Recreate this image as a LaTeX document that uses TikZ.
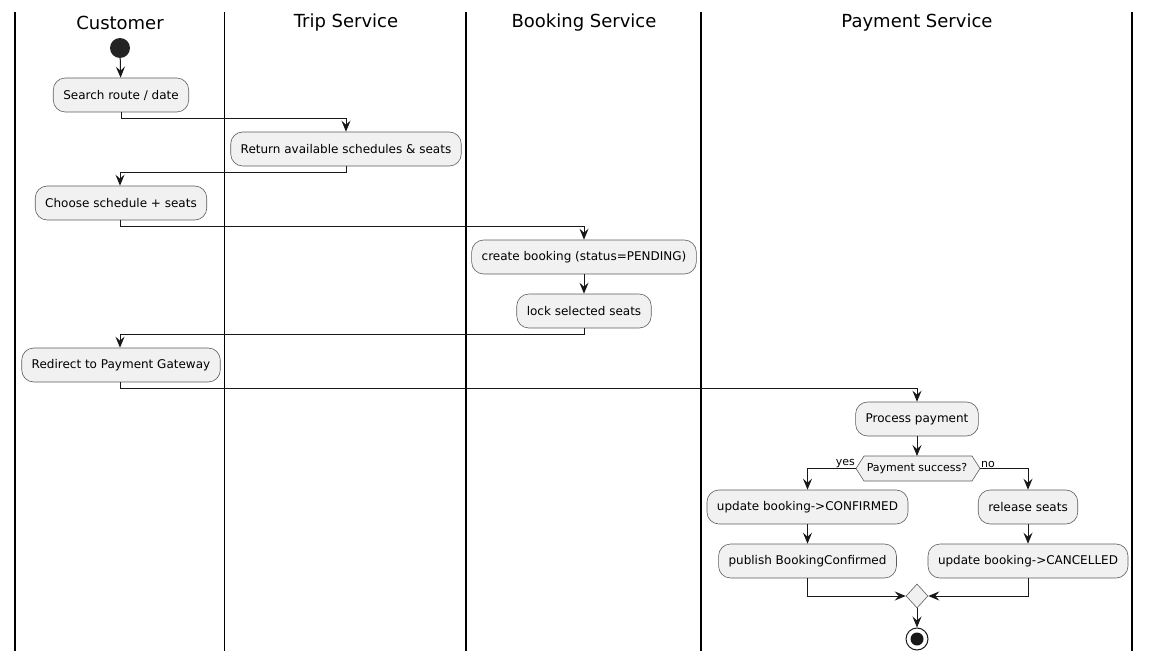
\documentclass[tikz,border=0pt]{standalone}
\usepackage{fontspec}
\setmainfont{DejaVu Sans}
\usetikzlibrary{arrows.meta,shapes.geometric,calc}
\definecolor{boxfill}{HTML}{F1F1F1}
\definecolor{ink}{HTML}{181818}
\begin{document}
\begin{tikzpicture}[x=1pt,y=-1pt,
  act/.style={draw=ink!70, line width=0.6pt, fill=boxfill, rounded corners=12pt,
    minimum height=34pt, inner xsep=10pt, inner ysep=0pt, font=\fontsize{12}{14}\selectfont},
  title/.style={font=\fontsize{18}{21}\selectfont},
  arr/.style={draw=ink, line width=1pt, -{Stealth[length=11pt,width=9pt,inset=4pt]}},
  lane/.style={draw=black, line width=1.5pt},
  lbl/.style={font=\fontsize{11}{13}\selectfont, inner sep=1pt}]
\useasboundingbox (0,0) rectangle (1151,661);
% swimlanes
\foreach \x in {15,224.5,466,701,1132}{\draw[lane] (\x,12) -- (\x,651);}
\node[title] (t1) at (120,23) {Customer};
\node[title] (t2) at (346,23) {Trip Service};
\node[title] (t3) at (584,23) {Booking Service};
\node[title] (t4) at (917,23) {Payment Service};
% nodes
\node[circle, fill=ink!95!white, minimum size=20pt, inner sep=0pt] (start) at (120,48) {};
\node[act] (s1) at (121,95) {Search route / date};
\node[act] (s2) at (346,149) {Return available schedules \& seats};
\node[act] (s3) at (121,203) {Choose schedule + seats};
\node[act] (s4) at (584,257) {create booking (status=PENDING)};
\node[act] (s5) at (584,311) {lock selected seats};
\node[act] (s6) at (121,365) {Redirect to Payment Gateway};
\node[act] (s7) at (917,419) {Process payment};
\coordinate (decT) at (917,456);
\coordinate (decL) at (856,468.5);
\coordinate (decR) at (980,468.5);
\draw[draw=ink!70, line width=0.6pt, fill=boxfill]
  (decL) -- (864,456) -- (972,456) -- (decR) -- (972,481) -- (864,481) -- cycle;
\node[font=\fontsize{11}{13}\selectfont, inner sep=0pt] (dec) at (917,469) {Payment success?};
\node[lbl, anchor=south east] (yes) at (decL) {yes};
\node[lbl, anchor=south west] (no) at (decR) {no};
\node[act] (y1) at (807.5,507) {update booking->CONFIRMED};
\node[act] (y2) at (807.5,561) {publish BookingConfirmed};
\node[act] (n1) at (1028,507) {release seats};
\node[act] (n2) at (1028,561) {update booking->CANCELLED};
\node[diamond, draw=ink!70, line width=0.6pt, fill=boxfill, minimum width=22pt, minimum height=24pt, inner sep=0pt] (merge) at (917,596) {};
\node[circle, draw=ink, line width=1pt, fill=white, minimum size=22pt, inner sep=0pt] (stop) at (917,639) {};
\node[circle, fill=ink, minimum size=13pt, inner sep=0pt] (stopin) at (stop.center) {};
% connectors
\draw[arr] (start) -- (s1);
\draw[arr] (s1.south) -- ++(0,6) -| (s2.north);
\draw[arr] (s2.south) -- ++(0,6) -| ([xshift=-1pt]s3.north);
\draw[arr] ([xshift=-1pt]s3.south) -- ++(0,6) -| (s4.north);
\draw[arr] (s4) -- (s5);
\draw[arr] (s5.south) -- ++(0,6) -| ([xshift=-1pt]s6.north);
\draw[arr] ([xshift=-1pt]s6.south) -- ++(0,6) -| (s7.north);
\draw[arr] (s7.south) -- (decT);
\draw[arr] (decL) -| (y1.north);
\draw[arr] (decR) -| (n1.north);
\draw[arr] (y1) -- (y2);
\draw[arr] (n1) -- (n2);
\draw[arr] (y2.south) |- (merge.west);
\draw[arr] (n2.south) |- (merge.east);
\draw[arr] (merge.south) -- (stop.north);
\end{tikzpicture}
\end{document}
